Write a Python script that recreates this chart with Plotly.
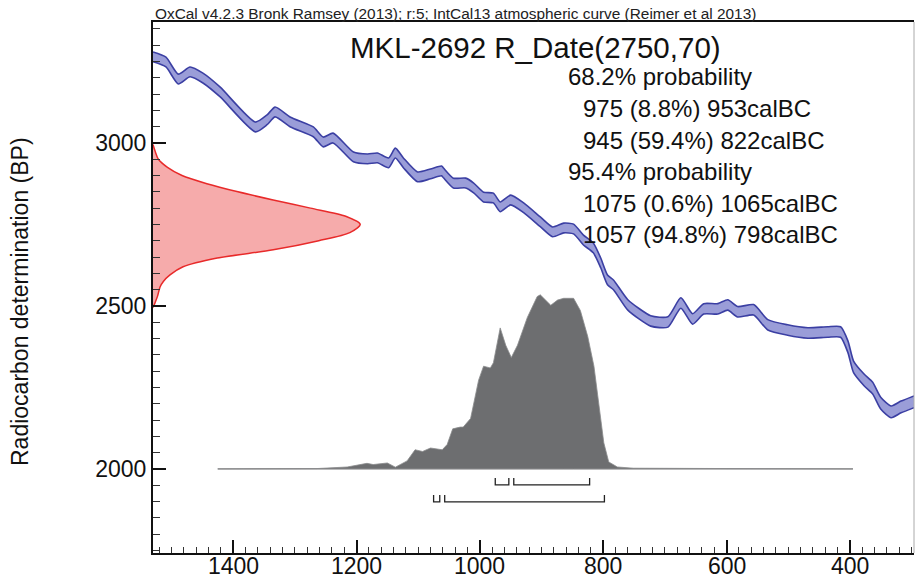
import plotly.graph_objects as go

# ---------------- data ----------------
# IntCal13 calibration curve (calBC, BP)
cal_years = [1530, 1509, 1489, 1470, 1449, 1421, 1364, 1345, 1332, 1307, 1270, 1254, 1238,
             1205, 1182, 1166, 1148, 1137, 1124, 1101, 1080, 1062, 1059, 1043, 1023, 1010,
             994, 978, 967, 950, 929, 902, 882, 864, 848, 832, 816, 804, 793, 783, 760,
             723, 695, 674, 655, 637, 614, 598, 582, 556, 533, 501, 468, 436, 415, 403,
             394, 377, 363, 350, 333, 317, 296]
cal_bp = [3264, 3248, 3196, 3218, 3199, 3156, 3049, 3071, 3095, 3064, 3034, 3003, 3015,
          2957, 2951, 2954, 2939, 2969, 2939, 2896, 2905, 2914, 2908, 2877, 2877, 2862,
          2834, 2831, 2804, 2825, 2801, 2758, 2727, 2739, 2736, 2702, 2678, 2632, 2580, 2564, 2503,
          2454, 2451, 2509, 2460, 2491, 2491, 2503, 2482, 2488, 2442, 2426, 2417, 2420, 2420, 2374,
          2313, 2273, 2248, 2202, 2175, 2190, 2206]
cal_err = [15] * 40 + [16] * 15 + [18] * 8

# Radiocarbon measurement R_Date(2750,70): relative density by BP
rd_bp = [2495, 2510, 2530, 2558, 2575, 2595, 2620, 2647, 2672, 2700, 2725, 2750,
         2775, 2800, 2825, 2850, 2875, 2900, 2925, 2950, 2975, 2995]
rd_dens = [0.0, 0.01, 0.022, 0.034, 0.05, 0.082, 0.145, 0.31, 0.58, 0.80, 0.95, 1.0,
           0.93, 0.76, 0.58, 0.41, 0.26, 0.14, 0.07, 0.026, 0.01, 0.0]

# Calibrated date probability (calBC, relative probability)
dist_years = [1425, 1300, 1264, 1215, 1183, 1173, 1150, 1137, 1118, 1105, 1096, 1093, 1080,
              1061, 1053, 1044, 1032, 1027, 1015, 1002, 994, 983, 978, 967, 958, 949, 939,
              923, 907, 902, 885, 874, 864, 848, 837, 825, 815, 807, 799, 791, 777, 751,
              700, 600, 500, 395]
dist_prob = [0.0, 0.0, 0.002, 0.011, 0.032, 0.025, 0.034, 0.01, 0.046, 0.11, 0.10, 0.10, 0.12,
             0.11, 0.14, 0.23, 0.24, 0.24, 0.29, 0.51, 0.59, 0.58, 0.61, 0.81, 0.71, 0.64, 0.71,
             0.87, 0.99, 1.0, 0.94, 0.97, 0.98, 0.98, 0.91, 0.76, 0.59, 0.38, 0.15, 0.04, 0.011, 0.004,
             0.002, 0.002, 0.001, 0.0]

# Highest probability ranges (start, end) calBC
ranges_68 = [(975, 953), (945, 822)]
ranges_95 = [(1075, 1065), (1057, 798)]

title_text = "MKL-2692 R_Date(2750,70)"
header_text = "OxCal v4.2.3 Bronk Ramsey (2013); r:5; IntCal13 atmospheric curve (Reimer et al 2013)"
prob_lines = ["68.2% probability", "975 (8.8%) 953calBC", "945 (59.4%) 822calBC",
              "95.4% probability", "1075 (0.6%) 1065calBC", "1057 (94.8%) 798calBC"]
prob_indent = [0, 1, 1, 0, 1, 1]

x_tickvals = [400, 600, 800, 1000, 1200, 1400]
y_tickvals = [2000, 2500, 3000]
X_RANGE = [1530, 296]
Y_RANGE = [1742, 3371]

# ---------------- styling constants ----------------
FONT = "Liberation Sans, Arial, sans-serif"
BAND_LINE = "#3b3fa3"
BAND_FILL = "rgba(125,130,205,0.78)"
RED_AMP = 336      # years for peak of measurement curve
DIST_AMP = 534     # BP for peak of calibrated distribution
DIST_BASE = 2000

fig = go.Figure()

# measurement (red) on y axis
rx = [X_RANGE[0] - d * RED_AMP for d in rd_dens]
fig.add_trace(go.Scatter(x=rx, y=rd_bp, mode="lines", fill="toself",
                         fillcolor="#f6abab",
                         line=dict(color="#e82a2a", width=1.5, shape="spline", smoothing=0.8),
                         hoverinfo="skip", showlegend=False))

# calibration curve band
lower = [b - e for b, e in zip(cal_bp, cal_err)]
upper = [b + e for b, e in zip(cal_bp, cal_err)]
fig.add_trace(go.Scatter(x=cal_years, y=lower, mode="lines",
                         line=dict(color=BAND_LINE, width=1.6, shape="spline", smoothing=0.6),
                         showlegend=False, hoverinfo="skip"))
fig.add_trace(go.Scatter(x=cal_years, y=upper, mode="lines", fill="tonexty",
                         fillcolor=BAND_FILL,
                         line=dict(color=BAND_LINE, width=1.6, shape="spline", smoothing=0.6),
                         showlegend=False, hoverinfo="skip"))

# calibrated distribution baseline + fill
fig.add_trace(go.Scatter(x=[dist_years[0], dist_years[-1]], y=[DIST_BASE, DIST_BASE],
                         mode="lines", line=dict(color="#8a8a8a", width=1),
                         showlegend=False, hoverinfo="skip"))
dy = [DIST_BASE + p * DIST_AMP for p in dist_prob]
fig.add_trace(go.Scatter(x=dist_years + dist_years[::-1],
                         y=dy + [DIST_BASE] * len(dist_years),
                         mode="lines", fill="toself", fillcolor="#6d6e70",
                         line=dict(color="#8a8b8d", width=0.8),
                         showlegend=False, hoverinfo="skip"))

# range brackets
def bracket(a, b, ybot, ytop):
    return go.Scatter(x=[a, a, b, b], y=[ytop, ybot, ybot, ytop], mode="lines",
                      line=dict(color="#222", width=1.3), showlegend=False, hoverinfo="skip")

for a, b in ranges_68:
    fig.add_trace(bracket(a, b, 1951, 1972))
for a, b in ranges_95:
    fig.add_trace(bracket(a, b, 1899, 1920))

# ---------------- layout ----------------
W, H = 915, 579
ML, MR, MT, MB = 153, 1, 22, 26
pw, ph = W - ML - MR, H - MT - MB

def px(xp):
    return (xp - ML) / pw

def py(yp):
    return (H - MB - yp) / ph

annotations = [
    dict(text=header_text, x=0, y=py(13), xref="paper", yref="paper", xanchor="left",
         yanchor="middle", showarrow=False, font=dict(size=15.4, color="#222", family=FONT)),
    dict(text=title_text, x=px(535), y=py(48), xref="paper", yref="paper", xanchor="center",
         yanchor="middle", showarrow=False, font=dict(size=29.5, color="#111", family=FONT)),
    dict(text="Radiocarbon determination (BP)", x=px(20), y=py(302), xref="paper", yref="paper",
         xanchor="center", yanchor="middle", textangle=-90, showarrow=False,
         font=dict(size=23, color="#111", family=FONT)),
]
line_y = [77, 108.5, 140, 171.5, 203, 234.5]
for txt, ind, yy in zip(prob_lines, prob_indent, line_y):
    annotations.append(dict(text=txt, x=px(566 + 15 * ind), y=py(yy), xref="paper", yref="paper",
                            xanchor="left", yanchor="middle", showarrow=False,
                            font=dict(size=24, color="#111", family=FONT)))
# x tick labels (placed as text so they sit tight under the axis like the original)
for v in x_tickvals:
    annotations.append(dict(text=str(v), x=v, xref="x", y=py(566), yref="paper",
                            xanchor="center", yanchor="middle", showarrow=False,
                            font=dict(size=23, color="#111", family=FONT)))

fig.update_layout(
    width=W, height=H,
    margin=dict(l=ML, r=MR, t=MT, b=MB, pad=0, autoexpand=False),
    paper_bgcolor="white", plot_bgcolor="white",
    showlegend=False,
    annotations=annotations,
    xaxis=dict(range=X_RANGE, tickvals=x_tickvals, showticklabels=False, automargin=False,
               ticks="inside", ticklen=13, tickwidth=1.5, tickcolor="#111",
               minor=dict(dtick=20, tick0=0, ticks="inside", ticklen=6, tickwidth=1, tickcolor="#333"),
               showline=True, linecolor="#111", linewidth=2, mirror=True,
               showgrid=False, zeroline=False),
    yaxis=dict(range=Y_RANGE, tickvals=y_tickvals, ticktext=[str(v) for v in y_tickvals],
               automargin=False,
               ticks="inside", ticklen=13, tickwidth=1.5, tickcolor="#111",
               minor=dict(dtick=50, tick0=0, ticks="inside", ticklen=7, tickwidth=1, tickcolor="#333"),
               showline=True, linecolor="#111", linewidth=2, mirror=False,
               showgrid=False, zeroline=False,
               tickfont=dict(size=23, color="#111", family=FONT)),
    shapes=[dict(type="line", xref="paper", yref="paper", x0=1, x1=1, y0=0, y1=1,
                 line=dict(color="#aaaaaa", width=1))],
)

fig.write_html("out.html", config={"displayModeBar": False},
               post_script="document.body.style.margin='0';document.body.style.overflow='hidden';")
